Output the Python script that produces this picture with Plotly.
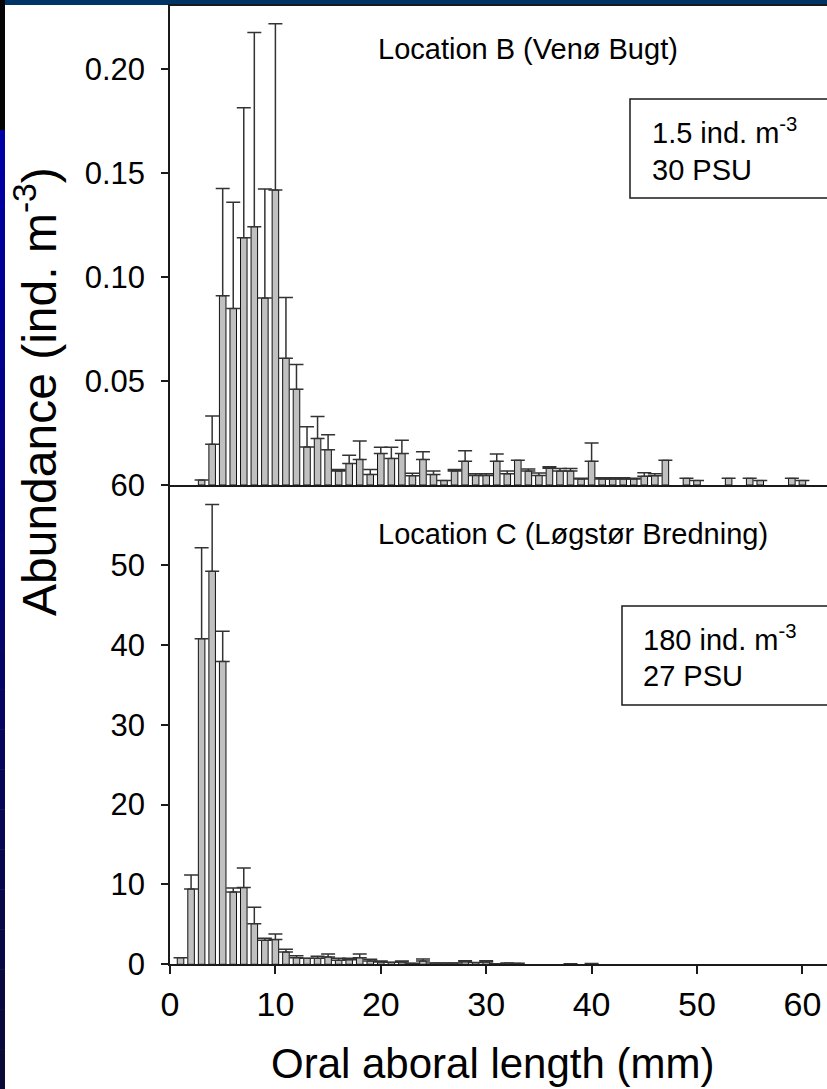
import plotly.graph_objects as go

# ---------------- data ----------------
# Location B (Venø Bugt): oral aboral length class (mm), mean abundance, upper error-bar end
b_len = [3, 4, 5, 6, 7, 8, 9, 10, 11, 12, 13, 14, 15, 16, 17, 18, 19, 20, 21, 22,
         23, 24, 25, 26, 27, 28, 29, 30, 31, 32, 33, 34, 35, 36, 37, 38, 39, 40, 41, 42,
         43, 44, 45, 46, 47, 49, 50, 53, 55, 56, 59, 60]
b_val = [0.0024, 0.0196, 0.0910, 0.0849, 0.1189, 0.1242, 0.0899, 0.1418, 0.0609, 0.0460,
         0.0183, 0.0224, 0.0170, 0.0067, 0.0103, 0.0123, 0.0051, 0.0151, 0.0128, 0.0151,
         0.0045, 0.0123, 0.0050, 0.0022, 0.0067, 0.0114, 0.0046, 0.0046, 0.0114, 0.0054,
         0.0119, 0.0067, 0.0046, 0.0080, 0.0067, 0.0067, 0.0029, 0.0114, 0.0029, 0.0029,
         0.0029, 0.0029, 0.0042, 0.0045, 0.0119, 0.0032, 0.0022, 0.0032, 0.0032, 0.0022,
         0.0032, 0.0022]
b_top = [None, 0.0332, 0.1425, 0.1359, 0.1814, 0.2176, 0.1423, 0.2218, 0.0902, 0.0579,
         0.0280, 0.0329, 0.0242, 0.0075, 0.0143, 0.0212, 0.0074, 0.0181, 0.0181, 0.0215,
         0.0056, 0.0160, 0.0067, None, 0.0075, 0.0165, 0.0054, 0.0054, 0.0149, 0.0067,
         None, 0.0077, 0.0058, 0.0088, 0.0079, 0.0079, 0.0032, 0.0202, 0.0035, 0.0035,
         0.0035, 0.0032, 0.0059, 0.0054, None, None, None, None, None, None,
         None, None]

# Location C (Løgstør Bredning)
c_len = [1, 2, 3, 4, 5, 6, 7, 8, 9, 10, 11, 12, 13, 14, 15, 16, 17, 18, 19, 20,
         21, 22, 23, 24, 25, 26, 27, 28, 29, 30, 31, 32, 33, 38, 40]
c_val = [0.83, 9.43, 40.76, 49.19, 37.92, 9.05, 9.60, 5.09, 3.00, 3.09, 1.54, 0.83, 0.75,
         0.75, 0.92, 0.50, 0.58, 0.83, 0.42, 0.29, 0.25, 0.29, 0.13, 0.42, 0.17, 0.17,
         0.17, 0.33, 0.21, 0.29, 0.08, 0.17, 0.13, 0.08, 0.10]
c_top = [None, 11.18, 52.15, 57.57, 41.68, 9.55, 12.06, 7.13, 3.25, 3.80, 1.88, 1.08, None,
         1.00, 1.29, 0.75, 0.75, 1.29, 0.63, 0.42, None, 0.42, None, 0.67, None, None,
         None, 0.46, None, 0.46, None, None, None, None, None]

b_yticks = [0.05, 0.10, 0.15, 0.20]
c_yticks = [0, 10, 20, 30, 40, 50, 60]
x_ticks = [0, 10, 20, 30, 40, 50, 60]

labels = ["Location B (Venø Bugt)", "Location C (Løgstør Bredning)"]
box_b = ["1.5 ind. m<sup>-3</sup>", "30 PSU"]
box_c = ["180 ind. m<sup>-3</sup>", "27 PSU"]

# ---------------- layout geometry (pixels) ----------------
W, H = 827, 1089
FONT = "Arial, Liberation Sans, sans-serif"


def px(xp):
    return xp / W


def py(yp):
    return 1 - yp / H


def err(vals, tops):
    return [None if t is None else t - v for v, t in zip(vals, tops)]


bar_style = dict(marker=dict(color="#c0c0c0", line=dict(color="#111111", width=1)),
                 showlegend=False, hoverinfo="x+y")
err_style = dict(type="data", symmetric=False, color="#333333", thickness=1.5, width=7)

fig = go.Figure()
fig.add_trace(go.Bar(x=b_len, y=b_val, xaxis="x", yaxis="y",
                     error_y=dict(array=err(b_val, b_top), arrayminus=[0] * len(b_val), **err_style),
                     **bar_style))
fig.add_trace(go.Bar(x=c_len, y=c_val, xaxis="x2", yaxis="y2",
                     error_y=dict(array=err(c_val, c_top), arrayminus=[0] * len(c_val), **err_style),
                     **bar_style))

x0_px, x_scale = 170, 10.54
xrange = [0, (W - x0_px) / x_scale]
xdom = [px(x0_px), 1.0]
line_col = "#1a1a1a"

axis_common = dict(showgrid=False, zeroline=False, showline=True, linecolor=line_col,
                   linewidth=1.5, automargin=False)

fig.update_layout(
    template="none",
    width=W, height=H,
    margin=dict(l=0, r=0, t=0, b=0, pad=0, autoexpand=False),
    paper_bgcolor="white", plot_bgcolor="white",
    showlegend=False,
    bargap=0.38,
    font=dict(family=FONT, color="black"),
    xaxis=dict(domain=xdom, range=xrange, anchor="y", mirror=True, showticklabels=False,
               ticks="", **axis_common),
    yaxis=dict(domain=[py(485), py(6)], range=[0, (485 - 6) / 2080], anchor="x",
               tickvals=b_yticks, tickformat=".2f", ticks="outside", ticklen=7, tickwidth=1.5,
               tickcolor=line_col, tickfont=dict(size=31, family=FONT),
               ticklabelstandoff=10, **axis_common),
    xaxis2=dict(domain=xdom, range=xrange, anchor="y2", tickvals=x_ticks, ticks="outside",
                ticklen=8, tickwidth=1.5, tickcolor=line_col,
                tickfont=dict(size=34, family=FONT), ticklabelstandoff=1, **axis_common),
    yaxis2=dict(domain=[py(964.3), py(485)], range=[0, 60], anchor="x2",
                tickvals=c_yticks, ticks="outside", ticklen=7, tickwidth=1.5,
                tickcolor=line_col, tickfont=dict(size=31, family=FONT),
                ticklabelstandoff=10, **axis_common),
)

# decorative slide background: top band and left gradient strip
shapes = [
    dict(type="rect", xref="paper", yref="paper", x0=px(5), x1=1, y0=py(5), y1=1,
         fillcolor="#003366", line=dict(width=0), layer="below"),
    dict(type="rect", xref="paper", yref="paper", x0=0, x1=px(5), y0=py(130), y1=1,
         fillcolor="#050505", line=dict(width=0), layer="below"),
]
n_seg = 24
for i in range(n_seg):
    y_a = 130 + (H - 130) * i / n_seg
    y_b = 130 + (H - 130) * (i + 1) / n_seg
    t = i / (n_seg - 1)
    blue = int(165 - 110 * t)
    red = int(0 + 10 * t)
    shapes.append(dict(type="rect", xref="paper", yref="paper", x0=0, x1=px(5),
                       y0=py(y_b + 0.5), y1=py(y_a), fillcolor=f"rgb({red},{red},{blue})",
                       line=dict(width=0), layer="below"))
# info boxes (right side runs off the page)
shapes.append(dict(type="rect", xref="paper", yref="paper", x0=px(630), x1=px(860),
                   y0=py(198), y1=py(99), line=dict(color=line_col, width=1.5)))
shapes.append(dict(type="rect", xref="paper", yref="paper", x0=px(622), x1=px(860),
                   y0=py(705), y1=py(606), line=dict(color=line_col, width=1.5)))
fig.update_layout(shapes=shapes)

ann = []
ann.append(dict(text=labels[0], xref="paper", yref="paper", x=px(376), y=py(49),
                xanchor="left", yanchor="middle", showarrow=False, font=dict(size=29)))
ann.append(dict(text=labels[1], xref="paper", yref="paper", x=px(376), y=py(534),
                xanchor="left", yanchor="middle", showarrow=False, font=dict(size=29)))
for i, line in enumerate(box_b):
    ann.append(dict(text=line, xref="paper", yref="paper", x=px(650), y=py(131 + 39 * i),
                    xanchor="left", yanchor="middle", showarrow=False, font=dict(size=29)))
for i, line in enumerate(box_c):
    ann.append(dict(text=line, xref="paper", yref="paper", x=px(641), y=py(638 + 38 * i),
                    xanchor="left", yanchor="middle", showarrow=False, font=dict(size=29)))
ann.append(dict(text="Abundance (ind. m<sup>-3</sup>)", xref="paper", yref="paper",
                x=px(36), y=py(392), xanchor="center", yanchor="middle", textangle=-90,
                showarrow=False, font=dict(size=48)))
ann.append(dict(text="Oral aboral length (mm)", xref="paper", yref="paper",
                x=px(492), y=py(1063), xanchor="center", yanchor="middle",
                showarrow=False, font=dict(size=42)))
fig.update_layout(annotations=ann)

fig.write_html("out.html")
